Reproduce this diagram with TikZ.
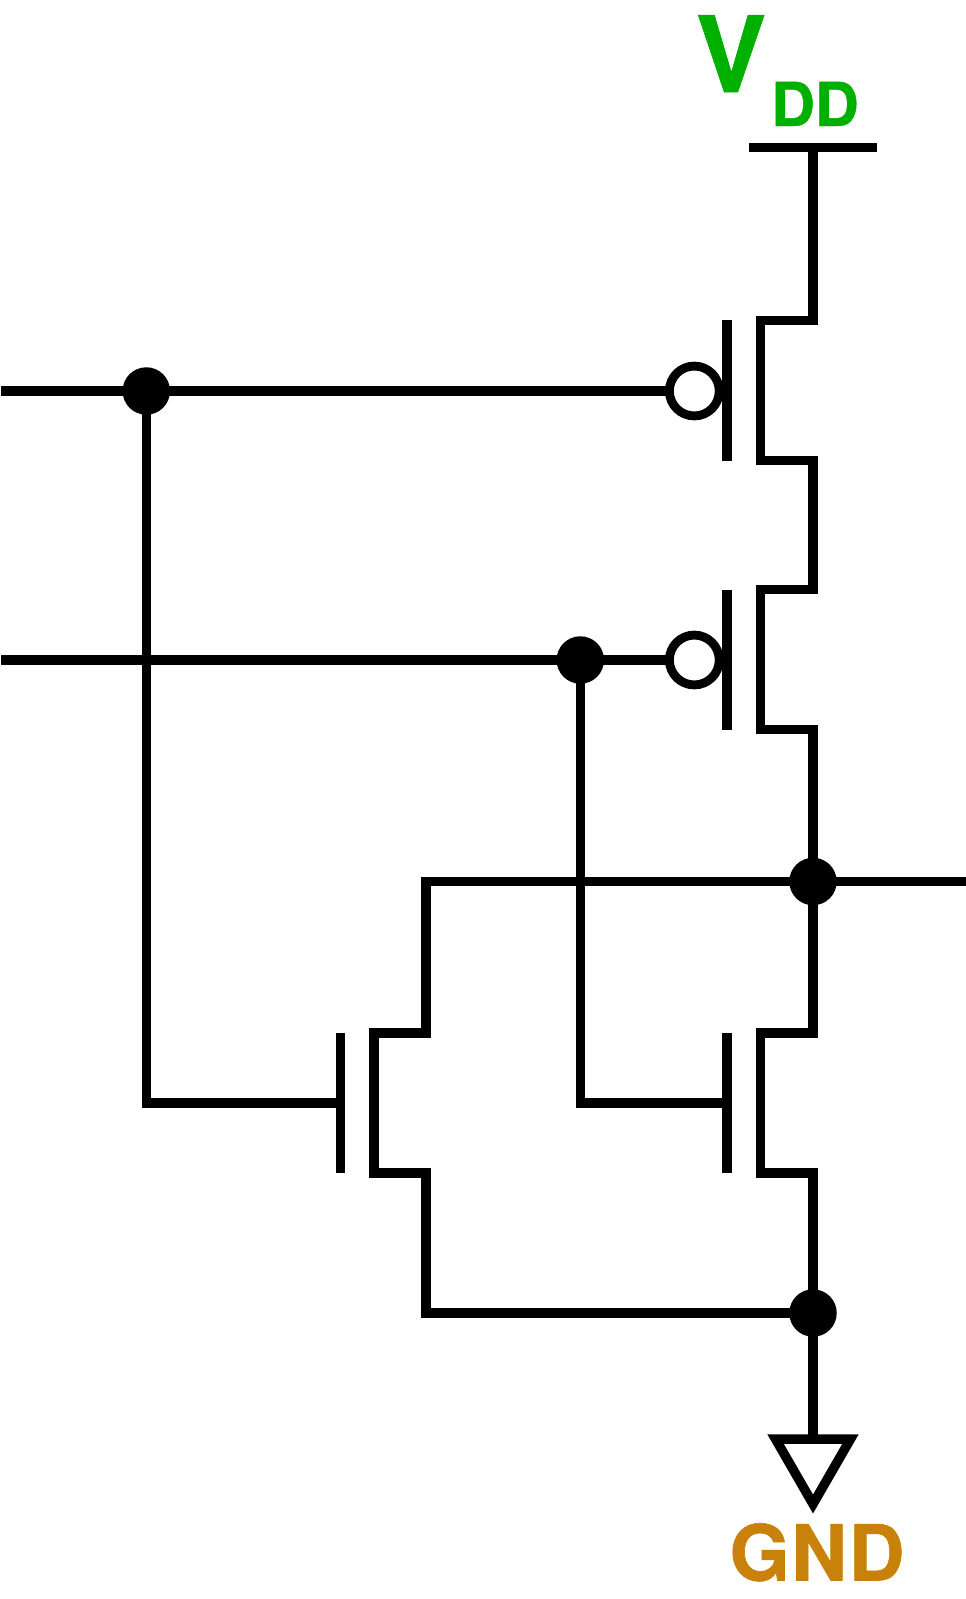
\documentclass[tikz,border=0pt]{standalone}
\usepackage{fontspec}
\setmainfont[BoldFeatures={FakeBold=0.8}]{TeX Gyre Heros}
\newfontfamily\gndfont[BoldFeatures={FakeBold=0.8},LetterSpace=2]{TeX Gyre Heros}
\usepackage{xcolor}
\usetikzlibrary{positioning,calc}
\definecolor{vddgreen}{RGB}{0,176,0}
\definecolor{gndbrown}{RGB}{200,130,10}
\tikzset{
    wire/.style={line width=7.1pt},
    junc/.style={circle, fill=black, minimum size=35.6pt, inner sep=0pt},
    bub/.style={circle, draw, line width=6.6pt, fill=white, minimum size=37.4pt, inner sep=0pt, outer sep=0pt}
}

\begin{document}
\begin{tikzpicture}[x=0.75pt, y=-0.75pt]
    \useasboundingbox (0,0) rectangle (966,1599);

    % Rails and junctions
    \coordinate (vddl) at (749,147.5);
    \coordinate (vddr) at (877,147.5);
    \coordinate (vddm) at (813,147.5);
    \coordinate (ina) at (1,391);
    \coordinate (inb) at (1,660);
    \coordinate (out) at (966,881.5);
    \coordinate (ncor) at (426,881.5);
    \coordinate (nwa) at (146.3,1103);
    \coordinate (nwb) at (580.3,1103);
    \coordinate (gcor) at (426,1313);
    \coordinate (gndtop) at (813,1439);

    % PMOS top
    \coordinate (pag1) at (727,320);
    \coordinate (pag2) at (727,460.5);
    \coordinate (pac1) at (813,320.5);
    \coordinate (pac2) at (760.5,320.5);
    \coordinate (pac3) at (760.5,460.5);
    \coordinate (pac4) at (813,460.5);
    % PMOS bottom
    \coordinate (pbg1) at (727,589.5);
    \coordinate (pbg2) at (727,729.5);
    \coordinate (pbc1) at (813,589.5);
    \coordinate (pbc2) at (760.5,589.5);
    \coordinate (pbc3) at (760.5,729.5);
    \coordinate (pbc4) at (813,729.5);
    % NMOS left
    \coordinate (nag1) at (340.5,1032.5);
    \coordinate (nag2) at (340.5,1172.7);
    \coordinate (nagm) at (340.5,1103);
    \coordinate (nac1) at (426,1033);
    \coordinate (nac2) at (374,1033);
    \coordinate (nac3) at (374,1173);
    \coordinate (nac4) at (426,1173);
    % NMOS right
    \coordinate (nbg1) at (727,1032.5);
    \coordinate (nbg2) at (727,1172.7);
    \coordinate (nbgm) at (727,1103);
    \coordinate (nbc1) at (813,1033);
    \coordinate (nbc2) at (760.5,1033);
    \coordinate (nbc3) at (760.5,1173);
    \coordinate (nbc4) at (813,1173);

    \coordinate (jouta) at (813,881.5);
    \coordinate (jgnda) at (813,1313);
    \coordinate (jina) at (146.3,391);
    \coordinate (jinb) at (580.3,660);
    \coordinate (bubac) at (694.3,391);
    \coordinate (bubbc) at (694.3,660);

    % Wires
    \draw[wire] (vddl) -- (vddr);
    \draw[wire] (vddm) -- (pac1) -- (pac2) -- (pac3) -- (pac4) -- (pbc1) -- (pbc2) -- (pbc3) -- (pbc4) -- (nbc1) -- (nbc2) -- (nbc3) -- (nbc4) -- (gndtop);
    \draw[wire] (pag1) -- (pag2);
    \draw[wire] (pbg1) -- (pbg2);
    \draw[wire] (nag1) -- (nag2);
    \draw[wire] (nbg1) -- (nbg2);
    \draw[wire] (ina) -- (bubac);
    \draw[wire] (inb) -- (bubbc);
    \draw[wire] (jina) -- (nwa) -- (nagm);
    \draw[wire] (jinb) -- (nwb) -- (nbgm);
    \draw[wire] (out) -- (ncor) -- (nac1) -- (nac2) -- (nac3) -- (nac4) -- (gcor) -- (jgnda);

    % Ground
    \draw[wire] (gndtop) ++(-37.5,0) -- ++(75,0) -- ++(-37.5,65) -- cycle;

    % Junctions and bubbles
    \node[junc] (dina) at (jina) {};
    \node[junc] (dinb) at (jinb) {};
    \node[junc] (dout) at (jouta) {};
    \node[junc] (dgnd) at (jgnda) {};
    \node[bub] (buba) at (bubac) {};
    \node[bub] (bubb) at (bubbc) {};

    % Labels
    \node[text=vddgreen, font=\fontsize{79}{79}\selectfont\bfseries, inner sep=0pt, anchor=base] (vlabel) at (731,92) {V};
    \node[text=vddgreen, font=\fontsize{45.5}{46}\selectfont\bfseries, inner sep=0pt, anchor=base] (ddlabel) at (815,126) {DD};
    \node[text=gndbrown, font=\gndfont\fontsize{58}{58}\selectfont\bfseries, inner sep=0pt, anchor=base] (gndlabel) at (817,1580.5) {GND};
\end{tikzpicture}
\end{document}
